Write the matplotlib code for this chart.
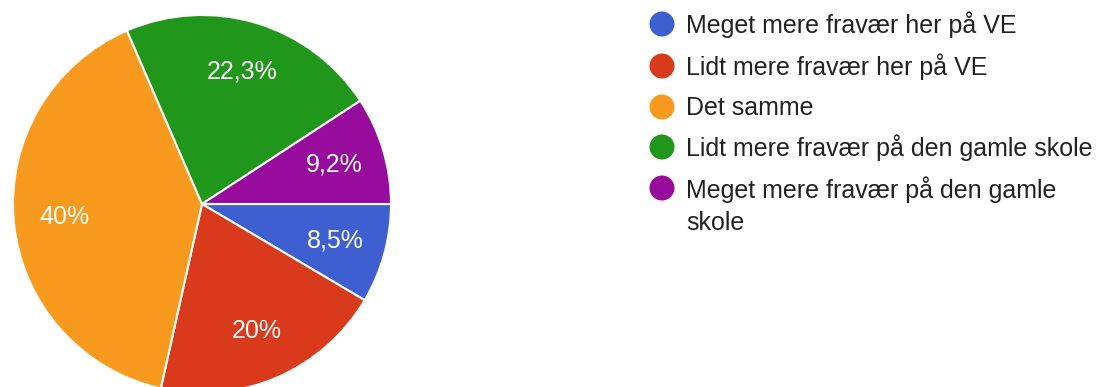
import matplotlib
matplotlib.use("Agg")
import matplotlib.pyplot as plt

labels = ["Meget mere fravær her på VE", "Lidt mere fravær her på VE", "Det samme",
          "Lidt mere fravær på den gamle skole", "Meget mere fravær på den gamle\nskole"]
values = [8.5, 20.0, 40.0, 22.3, 9.2]
pct_text = ["8,5%", "20%", "40%", "22,3%", "9,2%"]
colors = ["#3d5fd0", "#d93a1c", "#f89a1e", "#20961a", "#970b9c"]

plt.rcParams['font.family'] = ['Liberation Sans', 'DejaVu Sans']

W, H = 1105, 387
fig = plt.figure(figsize=(W / 100, H / 100), dpi=100)
fig.patch.set_facecolor("white")

cx, cy, r = 202, 204, 189
ax = fig.add_axes([(cx - r) / W, (H - cy - r) / H, 2 * r / W, 2 * r / H])
wedges, texts = ax.pie(values, colors=colors, startangle=0, counterclock=False,
                       labels=pct_text, labeldistance=0.73, radius=1.0,
                       wedgeprops=dict(edgecolor="white", linewidth=1.5))
for t in texts:
    t.set_color("white")
    t.set_fontsize(18)
    t.set_ha("center")
    t.set_va("center")
ax.set_xlim(-1, 1)
ax.set_ylim(-1, 1)
ax.set_aspect("equal")
ax.axis("off")

lax = fig.add_axes([0, 0, 1, 1])
lax.set_xlim(0, W)
lax.set_ylim(H, 0)
lax.axis("off")
ys = [24, 66, 107, 147, 188]
for y, lab, c in zip(ys, labels, colors):
    lax.scatter([662], [y], s=18 ** 2, color=c, edgecolors="none")
    if "\n" in lab:
        lax.text(686, y - 12, lab, fontsize=18, color="#222222", ha="left", va="top", linespacing=1.45)
    else:
        lax.text(686, y + 1, lab, fontsize=18, color="#222222", ha="left", va="center")

fig.savefig("out.png", dpi=100, facecolor="white")
